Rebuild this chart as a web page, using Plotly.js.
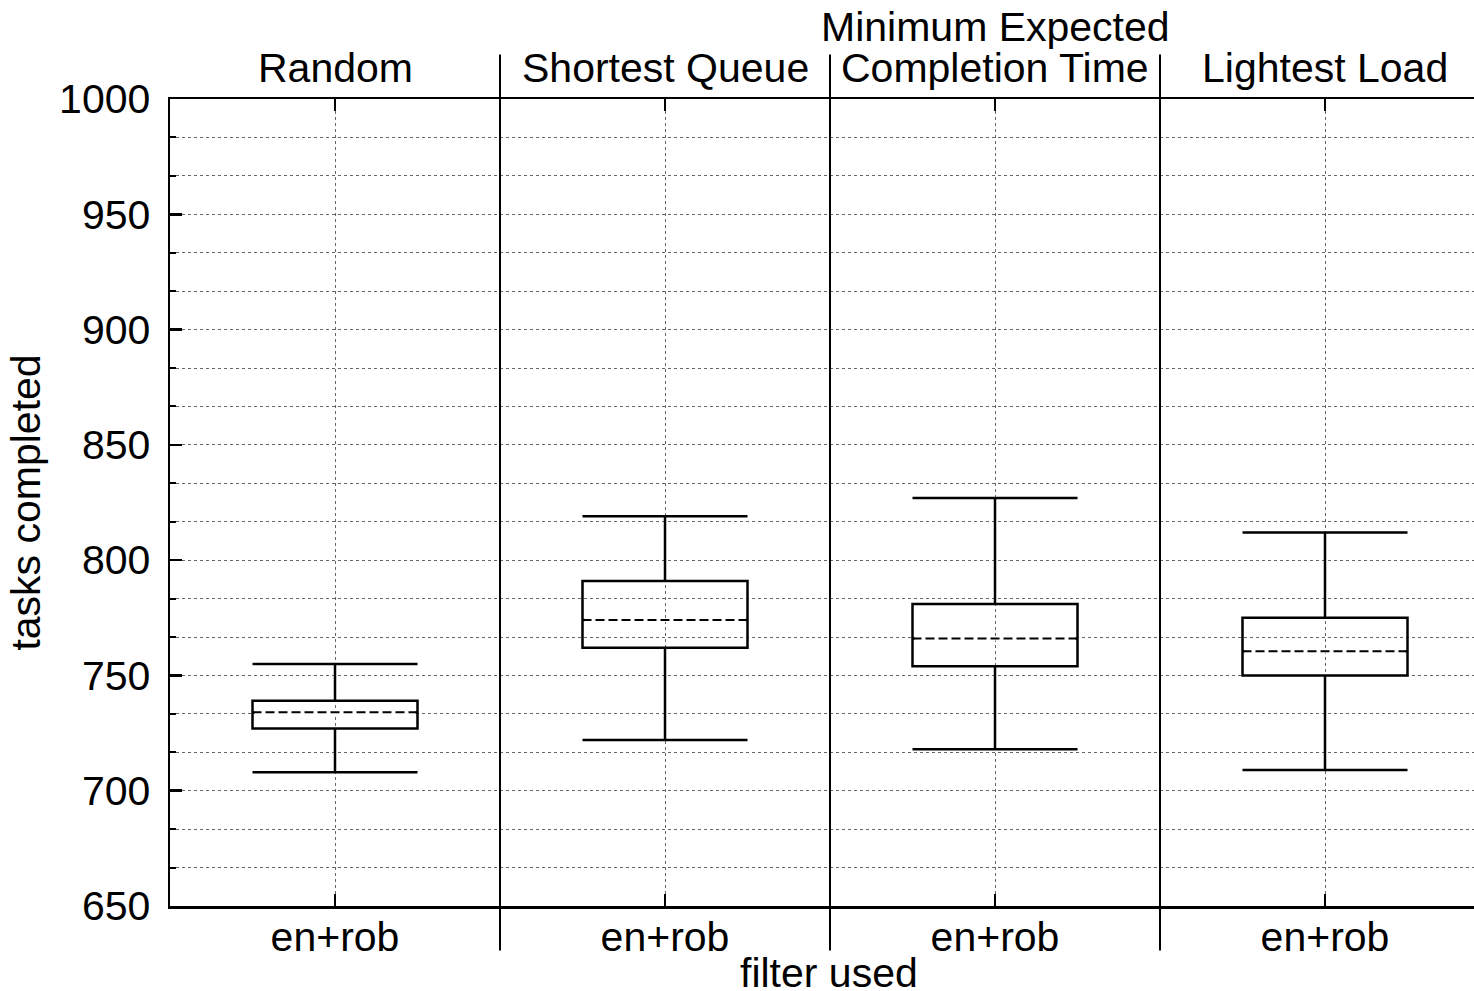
<!DOCTYPE html>
<html>
<head>
<meta charset="utf-8">
<script src="https://cdn.plot.ly/plotly-3.0.1.min.js"></script>
<style>html,body{margin:0;padding:0;background:#fff;}</style>
</head>
<body>
<div id="chart" style="width:1474px;height:991px;"></div>
<script>
// Data
const heuristics = ["Random", "Shortest Queue", "Minimum Expected<br>Completion Time", "Lightest Load"];
const filterLabel = "en+rob";
const whiskerLow = [708, 722, 718, 709];
const q1 = [727, 762, 754, 750];
const medians = [734, 774, 766, 760.5];
const q3 = [739, 791, 781, 775];
const whiskerHigh = [755, 819, 827, 812];

const centers = heuristics.map((_, i) => i + 0.5);
const boxW = 0.5;
const FONT = "Liberation Sans, Arial, Helvetica, sans-serif";
const FS = 41;

const traces = [];
heuristics.forEach((h, i) => {
  traces.push({
    type: "box",
    x: [centers[i]],
    q1: [q1[i]], median: [medians[i]], q3: [q3[i]],
    lowerfence: [whiskerLow[i]], upperfence: [whiskerHigh[i]],
    width: boxW, whiskerwidth: 1,
    boxpoints: false,
    line: {color: "#000", width: 2.5},
    fillcolor: "rgba(0,0,0,0)",
    hoverinfo: "skip", showlegend: false
  });
});
// cover the solid median and draw dashed median
heuristics.forEach((h, i) => {
  traces.push({
    type: "scatter", mode: "lines",
    x: [centers[i] - boxW / 2 + 0.006, centers[i] + boxW / 2 - 0.006],
    y: [medians[i], medians[i]],
    line: {color: "#fff", width: 4},
    hoverinfo: "skip", showlegend: false
  });
  traces.push({
    type: "scatter", mode: "lines",
    x: [centers[i] - boxW / 2, centers[i] + boxW / 2],
    y: [medians[i], medians[i]],
    line: {color: "#000", width: 2, dash: "9px,4px"},
    hoverinfo: "skip", showlegend: false
  });
});

const shapes = [];
for (let i = 1; i < heuristics.length; i++) {
  shapes.push({type: "line", xref: "x", yref: "paper", x0: i, x1: i, y0: -0.055, y1: 1.055,
    line: {color: "#000", width: 2}, layer: "above"});
}

const annotations = [];
heuristics.forEach((h, i) => {
  const parts = h.split("<br>");
  parts.forEach((p, j) => {
    const lineIdx = parts.length - 1 - j; // 0 = bottom line
    annotations.push({
      xref: "x", yref: "paper", x: centers[i], y: 1.0384 + lineIdx * 0.0508,
      text: p, showarrow: false, xanchor: "center", yanchor: "middle",
      font: {family: FONT, size: FS, color: "#000"}
    });
  });
});
annotations.push({
  xref: "paper", yref: "paper", x: (829 - 170) / 1304, y: -0.083,
  text: "filter used", showarrow: false, xanchor: "center", yanchor: "middle",
  font: {family: FONT, size: FS, color: "#000"}
});

const layout = {
  width: 1474, height: 991,
  margin: {l: 170, r: 0, t: 99, b: 85},
  paper_bgcolor: "#fff", plot_bgcolor: "#fff",
  font: {family: FONT, size: FS, color: "#000"},
  showlegend: false,
  xaxis: {
    range: [0, 1304 / 330],
    tickvals: centers, ticktext: centers.map(() => filterLabel),
    ticks: "inside", ticklen: 12, tickwidth: 2.5, tickcolor: "#000",
    showline: true, linecolor: "#000", linewidth: 2.5, mirror: "ticks",
    showgrid: true, gridcolor: "#666", griddash: "dot", gridwidth: 1,
    zeroline: false, automargin: false,
    ticklabelstandoff: -7,
    tickfont: {family: FONT, size: FS}
  },
  yaxis: {
    range: [650, 1000], dtick: 50, tick0: 650,
    ticks: "inside", ticklen: 12, tickwidth: 2.5, tickcolor: "#000",
    showline: true, linecolor: "#000", linewidth: 2.5,
    showgrid: true, gridcolor: "#666", griddash: "dot", gridwidth: 1,
    minor: {dtick: 50 / 3, tick0: 650, ticks: "inside", ticklen: 6, tickwidth: 2, tickcolor: "#000",
            showgrid: true, gridcolor: "#666", griddash: "dot", gridwidth: 1},
    zeroline: false, automargin: false,
    ticklabelstandoff: 9,
    tickfont: {family: FONT, size: FS},
    title: {text: "tasks completed", font: {family: FONT, size: FS}, standoff: 6}
  },
  shapes: shapes,
  annotations: annotations
};

Plotly.newPlot("chart", traces, layout, {staticPlot: true, displayModeBar: false});
</script>
</body>
</html>
